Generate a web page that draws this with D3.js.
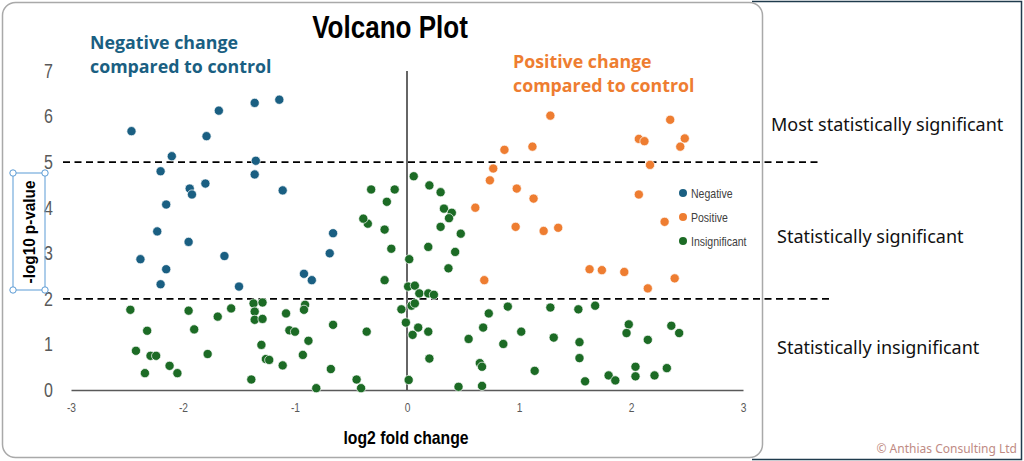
<!DOCTYPE html>
<html><head><meta charset="utf-8">
<script src="https://cdn.jsdelivr.net/npm/d3@7"></script>
<style>body{margin:0;background:#fff}svg{display:block}</style>
</head><body>
<svg id="c" width="1024" height="461"></svg>
<script>
const xTicks = [-3,-2,-1,0,1,2,3];
const yTicks = [0,1,2,3,4,5,6,7];
const thresholds = [5,2];
const categories = ["Negative","Positive","Insignificant"];
const regionLabels = ["Most statistically significant","Statistically significant","Statistically insignificant"];

const negative = [[-2.46,5.68],[-1.68,6.13],[-1.36,6.30],[-1.14,6.37],[-1.79,5.57],[-2.10,5.13],[-1.35,5.03],[-2.20,4.80],[-1.36,4.73],[-1.94,4.42],[-1.92,4.29],[-1.80,4.53],[-1.11,4.38],[-2.15,4.07],[-2.23,3.48],[-2.38,2.87],[-1.95,3.25],[-2.15,2.65],[-2.20,2.32],[-1.63,2.94],[-1.50,2.27],[-0.66,3.44],[-0.69,3.00],[-0.92,2.55],[-0.85,2.41]];
const positive = [[1.28,6.02],[2.35,5.93],[2.07,5.51],[2.12,5.46],[2.48,5.52],[2.44,5.34],[0.87,5.27],[1.12,5.34],[2.17,4.94],[0.77,4.86],[0.74,4.60],[0.98,4.42],[1.13,4.20],[2.07,4.29],[0.61,4.00],[2.30,3.69],[0.97,3.58],[1.22,3.49],[1.35,3.56],[1.63,2.65],[1.74,2.63],[1.94,2.59],[2.39,2.45],[2.15,2.23],[0.69,2.41]];
const insignificant = [[-2.47,1.76],[-2.32,1.30],[-2.42,0.86],[-2.29,0.75],[-2.24,0.75],[-2.34,0.37],[-2.12,0.53],[-2.05,0.37],[-1.95,1.74],[-1.90,1.33],[-1.69,1.61],[-1.78,0.79],[-1.57,1.79],[-1.37,1.90],[-1.29,1.92],[-1.36,1.72],[-1.36,1.54],[-1.29,1.56],[-1.30,0.99],[-1.26,0.68],[-1.23,0.66],[-1.39,0.23],[-1.08,1.68],[-1.05,1.31],[-1.00,1.28],[-1.11,0.54],[-0.91,1.87],[-0.92,1.76],[-0.88,1.08],[-0.93,0.77],[-0.81,0.04],[-0.66,1.43],[-0.68,0.46],[-0.45,0.23],[-0.41,0.04],[-0.36,1.28],[-0.20,2.41],[-0.14,3.10],[-0.20,3.52],[-0.35,3.65],[-0.39,3.76],[-0.32,4.40],[-0.11,4.40],[-0.18,4.13],[-0.05,1.77],[-0.01,1.48],[0.015,0.22],[0.02,2.87],[0.01,2.27],[0.07,2.29],[0.05,1.21],[0.04,1.85],[0.07,1.90],[0.06,4.69],[0.20,4.49],[0.30,4.34],[0.33,3.98],[0.40,3.89],[0.375,3.77],[0.30,3.58],[0.48,3.43],[0.19,3.14],[0.43,3.03],[0.37,2.67],[0.11,2.12],[0.19,2.12],[0.24,2.09],[0.10,1.37],[0.19,1.28],[0.20,0.69],[0.46,0.07],[0.55,1.12],[0.68,1.37],[0.73,1.68],[0.90,1.83],[0.65,0.59],[0.67,0.51],[0.67,0.09],[0.86,1.01],[1.02,1.28],[1.14,0.42],[1.28,1.81],[1.31,1.15],[1.53,1.77],[1.68,1.85],[1.54,1.05],[1.54,0.70],[1.59,0.19],[1.80,0.32],[1.86,0.21],[1.98,1.44],[1.96,1.25],[2.15,1.10],[2.04,0.51],[2.04,0.30],[2.21,0.32],[2.32,0.48],[2.36,1.41],[2.43,1.25]];

const colors = {Negative:"#1a5f82", Positive:"#ee7d31", Insignificant:"#1c6b25"};
const series = [["Insignificant",insignificant],["Negative",negative],["Positive",positive]];

const svg = d3.select("#c");
const sans = "'Liberation Sans',Arial,sans-serif";
const aptos = "'Noto Sans','Open Sans',sans-serif";

// condensed text helper (no narrow font installed -> horizontal scale)
function narrowText(parent, px, py, sx, txt){
  return parent.append("g").attr("transform",`translate(${px},${py}) scale(${sx},1)`)
    .append("text").attr("x",0).attr("y",0).text(txt);
}

// outer dark frame (right panel)
svg.append("path").attr("d","M752,1.5 H1021.5 V459.5 H752").attr("fill","none").attr("stroke","#1f3b4d").attr("stroke-width",1.5);
// chart area rounded border
svg.append("rect").attr("x",2.5).attr("y",2.5).attr("width",760).attr("height",455).attr("rx",13)
  .attr("fill","#fff").attr("stroke","#a9a9a9").attr("stroke-width",1.5);

const x = d3.scaleLinear().domain([-3,3]).range([71,743]);
const y = d3.scaleLinear().domain([0,7]).range([390,71]);

// title
narrowText(svg,390,38,0.84,"Volcano Plot").attr("text-anchor","middle")
  .style("font-family",sans).style("font-weight","bold").style("font-size","31px").attr("fill","#000");

// x axis
const gx = svg.append("g").attr("transform",`translate(0,${y(0)})`)
  .call(d3.axisBottom(x).tickValues(xTicks).tickSize(0).tickPadding(13).tickFormat(d=>String(d)));
gx.select(".domain").attr("stroke","#595959").attr("stroke-width",1.5);
gx.selectAll("text").style("font-family",sans).style("font-size","12.5px").attr("fill","#595959")
  .attr("transform","scale(0.82,1)").attr("x",0);

// y axis
const ySx = 0.8;
const gy = svg.append("g").attr("transform",`translate(${x(-3)},0)`)
  .call(d3.axisLeft(y).tickValues(yTicks).tickSize(0).tickPadding(18).tickFormat(d=>String(d)));
gy.select(".domain").remove();
gy.selectAll("text").style("font-family",sans).style("font-size","20px").attr("fill","#595959")
  .attr("x",-18/ySx).attr("transform",`scale(${ySx},1)`);

// vertical zero line
svg.append("line").attr("x1",x(0)).attr("x2",x(0)).attr("y1",y(7)).attr("y2",y(0))
  .attr("stroke","#333").attr("stroke-width",1.5);

// threshold dashed lines
const dashEnd = [818,830];
thresholds.forEach((t,i)=>{
  svg.append("line").attr("x1",63).attr("x2",dashEnd[i]).attr("y1",y(t)).attr("y2",y(t))
    .attr("stroke","#000").attr("stroke-width",1.6).attr("stroke-dasharray","7,4.5");
});

// points
series.forEach(([name,data])=>{
  svg.append("g").selectAll("circle").data(data).join("circle")
    .attr("cx",d=>x(d[0])).attr("cy",d=>y(d[1])).attr("r",4.6)
    .attr("fill",colors[name]).attr("stroke","#fff").attr("stroke-width",0.7);
});

// legend
const lg = svg.append("g");
categories.forEach((c,i)=>{
  const ly = 193 + i*24;
  lg.append("circle").attr("cx",683).attr("cy",ly).attr("r",4).attr("fill",colors[c]);
  narrowText(lg,691,ly+4.5,0.81,c).style("font-family",sans).style("font-size","13px").attr("fill","#404040");
});

// annotations
const neg = svg.append("text").style("font-family","'Open Sans',sans-serif").style("font-weight","bold").style("font-size","17.8px").attr("fill","#1a5f82");
neg.append("tspan").attr("x",90).attr("y",49).text("Negative change");
neg.append("tspan").attr("x",90).attr("y",73).text("compared to control");
const pos = svg.append("text").style("font-family","'Open Sans',sans-serif").style("font-weight","bold").style("font-size","17.8px").attr("fill","#ee7d31");
pos.append("tspan").attr("x",513).attr("y",68).text("Positive change");
pos.append("tspan").attr("x",513).attr("y",92).text("compared to control");

// y title with selection box
svg.append("rect").attr("x",13).attr("y",173).attr("width",32).attr("height",117)
  .attr("fill","none").attr("stroke","#5b9bd5").attr("stroke-width",1);
[[13,173],[45,173],[13,290],[45,290]].forEach(p=>{
  svg.append("circle").attr("cx",p[0]).attr("cy",p[1]).attr("r",3.2).attr("fill","#fff").attr("stroke","#5b9bd5").attr("stroke-width",1);
});
svg.append("g").attr("transform","translate(35,232) rotate(-90) scale(0.9,1)").append("text").attr("text-anchor","middle")
  .style("font-family",sans).style("font-weight","bold").style("font-size","17px").attr("fill","#000").text("-log10 p-value");

// x title
narrowText(svg,406,444,0.83,"log2 fold change").attr("text-anchor","middle")
  .style("font-family",sans).style("font-weight","bold").style("font-size","19px").attr("fill","#000");

// region labels
const rl = [[771,131],[777,243],[777,354]];
regionLabels.forEach((t,i)=>{
  svg.append("text").attr("x",rl[i][0]).attr("y",rl[i][1]).style("font-family",aptos).style("font-size","18px")
    .attr("fill","#111").text(t);
});

svg.append("text").attr("x",1017).attr("y",453).attr("text-anchor","end").style("font-family",aptos)
  .style("font-size","12px").attr("fill","#c08b84").text("© Anthias Consulting Ltd");
</script>
</body></html>
